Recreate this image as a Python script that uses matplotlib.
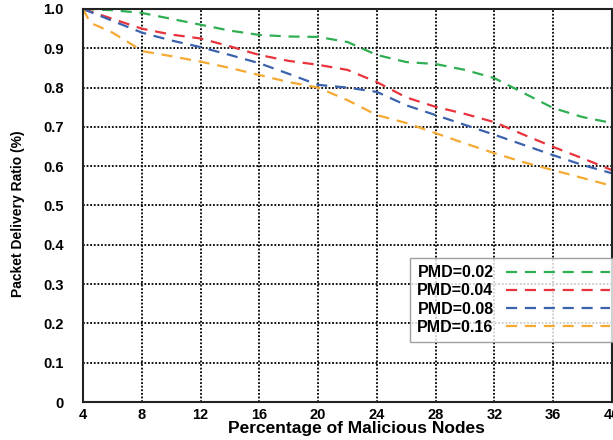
import matplotlib
matplotlib.use("Agg")
import matplotlib.pyplot as plt

plt.rcParams["font.family"] = ["Liberation Sans", "DejaVu Sans"]
plt.rcParams["font.weight"] = "bold"

X = [4, 6, 8, 10, 12, 14, 16, 18, 20, 22, 24, 26, 28, 30, 32, 34, 36, 38, 40]
PDR_002 = [1.0, 0.997, 0.99, 0.975, 0.96, 0.945, 0.934, 0.93, 0.929, 0.916, 0.883,
           0.865, 0.86, 0.845, 0.824, 0.786, 0.748, 0.725, 0.71]
PDR_004 = [1.0, 0.975, 0.95, 0.935, 0.925, 0.905, 0.883, 0.868, 0.858, 0.845, 0.814,
           0.775, 0.751, 0.733, 0.712, 0.68, 0.649, 0.62, 0.59]
PDR_008 = [1.0, 0.97, 0.94, 0.92, 0.903, 0.883, 0.862, 0.835, 0.807, 0.80, 0.789,
           0.755, 0.73, 0.705, 0.68, 0.654, 0.628, 0.603, 0.582]
X_016 = [4, 4.5, 6, 7.4, 8, 10, 12, 14, 16, 18, 20, 22, 24, 26, 28, 30, 32, 34, 36, 38, 40]
PDR_016 = [1.0, 0.965, 0.94, 0.908, 0.893, 0.88, 0.866, 0.85, 0.832, 0.814, 0.80,
           0.768, 0.73, 0.71, 0.684, 0.658, 0.633, 0.61, 0.59, 0.57, 0.55]

SERIES = [
    ("PMD=0.02", X, PDR_002, "#2fae52"),
    ("PMD=0.04", X, PDR_004, "#e8333c"),
    ("PMD=0.08", X, PDR_008, "#3b62ad"),
    ("PMD=0.16", X_016, PDR_016, "#f4a933"),
]
X_TICKS = [4, 8, 12, 16, 20, 24, 28, 32, 36, 40]
Y_TICKS = [0, 0.1, 0.2, 0.3, 0.4, 0.5, 0.6, 0.7, 0.8, 0.9, 1.0]
Y_LABELS = ["0", "0.1", "0.2", "0.3", "0.4", "0.5", "0.6", "0.7", "0.8", "0.9", "1.0"]


def main():
    fig = plt.figure(figsize=(6.13, 4.40), dpi=100)
    ax = fig.add_axes([83 / 613, 38 / 440, 529 / 613, 393 / 440])

    for label, xs, ys, color in SERIES:
        ax.plot(xs, ys, color=color, linewidth=1.6, dashes=(5, 3.5), label=label)

    ax.set_xlim(4, 40)
    ax.set_ylim(0, 1.0)
    ax.set_xticks(X_TICKS)
    ax.set_yticks(Y_TICKS)
    ax.set_yticklabels(Y_LABELS)
    ax.grid(True, color="black", linestyle=(0, (1, 1)), linewidth=1.3)
    ax.tick_params(axis="both", length=0, labelsize=10.5)
    ax.tick_params(axis="y", pad=14)
    ax.tick_params(axis="x", pad=4)
    for s in ax.spines.values():
        s.set_linewidth(1.5)
        s.set_color("#222222")

    fig.text(356 / 613, 1 - 428 / 440, "Percentage of Malicious Nodes",
             ha="center", va="center", fontsize=12.5, fontweight="bold")
    fig.text(18 / 613, 1 - 214 / 440, "Packet Delivery Ratio (%)",
             ha="center", va="center", rotation=90, fontsize=10, fontweight="bold")

    leg = ax.legend(loc="upper left", bbox_to_anchor=(410 / 613, 1 - 258 / 440),
                    bbox_transform=fig.transFigure, markerfirst=False,
                    handlelength=6.5, fontsize=11.5, frameon=True, fancybox=False,
                    borderpad=0.45, labelspacing=0.2, handletextpad=0.8,
                    borderaxespad=0)
    leg.get_frame().set_edgecolor("#888888")
    leg.get_frame().set_linewidth(1.0)
    for t in leg.get_texts():
        t.set_fontweight("bold")

    fig.savefig("out.png", dpi=100)


if __name__ == "__main__":
    main()
